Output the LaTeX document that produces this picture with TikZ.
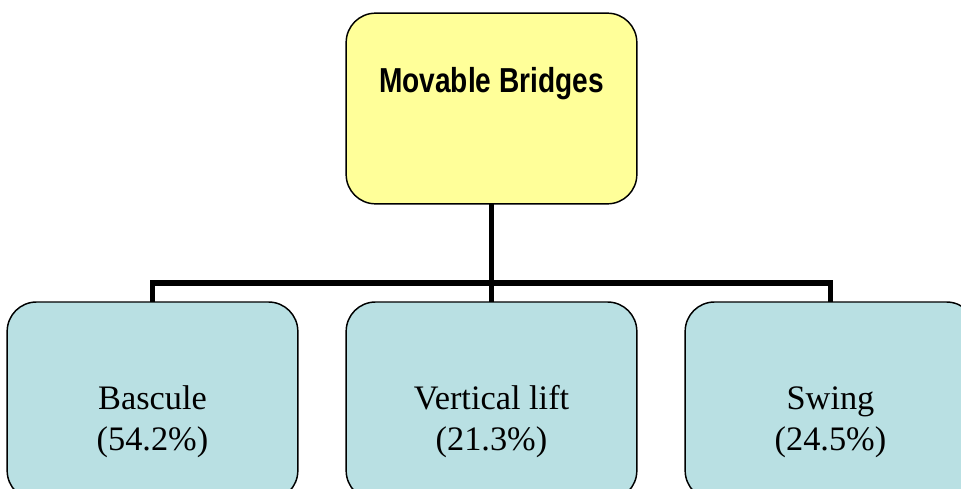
\documentclass[tikz,border=0pt]{standalone}
\usepackage{fontspec}
\usetikzlibrary{backgrounds}
\setmainfont{Liberation Serif}
\newfontfamily\hdrfont[FakeStretch=0.81]{Liberation Sans}
\definecolor{boxyellow}{RGB}{255,255,153}
\definecolor{boxblue}{RGB}{185,224,227}
\begin{document}
\begin{tikzpicture}[x=0.75pt,y=-0.75pt,
  box/.style={draw=black,line width=1.1pt,rounded corners=22pt,minimum width=218pt,inner sep=0pt},
  topbox/.style={box,fill=boxyellow,minimum height=143pt},
  leafbox/.style={box,fill=boxblue,minimum height=148.5pt},
  conn/.style={line width=3.8pt,line cap=rect},
  hdr/.style={font=\hdrfont\bfseries\fontsize{26pt}{30pt}\selectfont,anchor=base,inner sep=0pt},
  lbl/.style={font=\fontsize{25.75pt}{30pt}\selectfont,anchor=base,inner sep=0pt}]
\useasboundingbox (0,0) rectangle (961,489);
\clip (0,0) rectangle (961,489);
\coordinate (j) at (491.5,283);
\node[topbox] (top) at (491.5,108.5) {};
\node[leafbox] (b1) at (152.5,401) {};
\node[leafbox] (b2) at (491.5,401) {};
\node[leafbox] (b3) at (830.5,401) {};
\begin{pgfonlayer}{background}
\draw[conn] (top.south) -- (j);
\draw[conn] (b1.north) |- (j) -| (b3.north);
\draw[conn] (b2.north) -- (j);
\end{pgfonlayer}
\node[hdr] (ttl) at (491.5,92) {Movable Bridges};
\node[lbl] (t1a) at (152.5,409) {Bascule};
\node[lbl] (t1b) at (152.5,450) {(54.2\%)};
\node[lbl] (t2a) at (491.5,409) {Vertical lift};
\node[lbl] (t2b) at (491.5,450) {(21.3\%)};
\node[lbl] (t3a) at (830.5,409) {Swing};
\node[lbl] (t3b) at (830.5,450) {(24.5\%)};
\end{tikzpicture}
\end{document}
